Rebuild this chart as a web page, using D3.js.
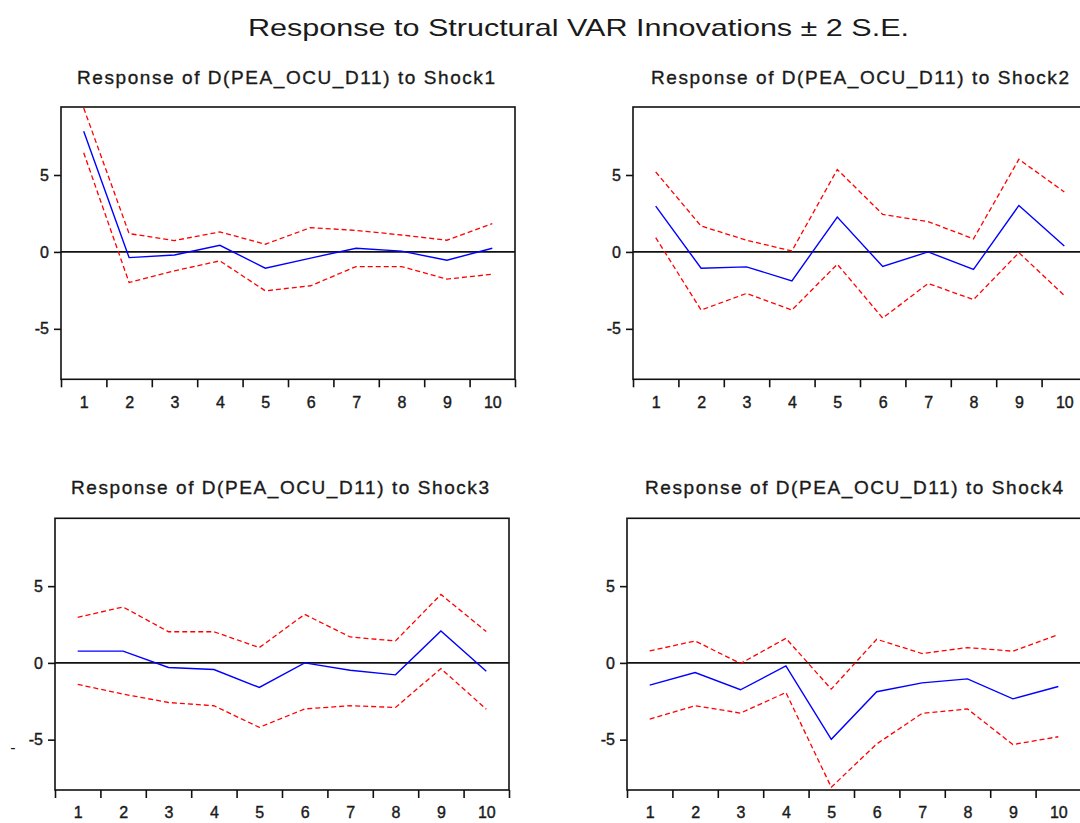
<!DOCTYPE html>
<html><head><meta charset="utf-8">
<script src="https://cdn.jsdelivr.net/npm/d3@7"></script>
<style>
html,body{margin:0;padding:0;background:#fff;}
svg{display:block;}
text{font-family:"Liberation Sans",Arial,sans-serif;fill:#1a1a1a;}
</style></head>
<body><svg id="c" width="1080" height="823"></svg>
<script>
// ---- data ----
const periods = [1,2,3,4,5,6,7,8,9,10];
const yTicks = [-5, 0, 5];
const mainTitle = "Response to Structural VAR Innovations \u00B1 2 S.E.";
const panelTitles = [
  "Response of D(PEA_OCU_D11) to Shock1",
  "Response of D(PEA_OCU_D11) to Shock2",
  "Response of D(PEA_OCU_D11) to Shock3",
  "Response of D(PEA_OCU_D11) to Shock4"
];
const shock1 = [7.85, -0.37, -0.2, 0.43, -1.06, -0.4, 0.24, 0.05, -0.54, 0.24];
const shock1Upper = [9.35, 1.19, 0.74, 1.3, 0.5, 1.58, 1.4, 1.1, 0.76, 1.84];
const shock1Lower = [6.45, -1.99, -1.23, -0.58, -2.53, -2.2, -0.95, -0.95, -1.77, -1.45];
const shock2 = [2.98, -1.06, -0.97, -1.88, 2.27, -0.95, 0.0, -1.14, 3.02, 0.38];
const shock2Upper = [5.2, 1.68, 0.76, 0.06, 5.36, 2.44, 1.97, 0.85, 6.02, 3.9];
const shock2Lower = [0.93, -3.78, -2.7, -3.78, -0.8, -4.3, -2.05, -3.1, -0.05, -2.83];
const shock3 = [0.77, 0.77, -0.3, -0.43, -1.6, 0.0, -0.48, -0.78, 2.08, -0.55];
const shock3Upper = [2.97, 3.64, 2.03, 2.03, 1.0, 3.16, 1.69, 1.43, 4.46, 2.04];
const shock3Lower = [-1.4, -2.03, -2.58, -2.79, -4.2, -3.0, -2.79, -2.9, -0.37, -3.02];
const shock4 = [-1.45, -0.63, -1.75, -0.2, -4.98, -1.88, -1.3, -1.04, -2.34, -1.54];
const shock4Upper = [0.78, 1.43, -0.04, 1.6, -1.71, 1.54, 0.61, 1.0, 0.76, 1.84];
const shock4Lower = [-3.66, -2.79, -3.27, -1.93, -8.1, -5.28, -3.29, -3.0, -5.32, -4.81];

const series = [
  [shock1, shock1Upper, shock1Lower],
  [shock2, shock2Upper, shock2Lower],
  [shock3, shock3Upper, shock3Lower],
  [shock4, shock4Upper, shock4Lower]
];

// ---- layout ----
const layout = [
  {left: 61,  top: 107, bottom: 379.3, titleY: 83.5},
  {left: 633, top: 107, bottom: 379.3, titleY: 83.5},
  {left: 55,  top: 518.3, bottom: 790, titleY: 494},
  {left: 627, top: 518.3, bottom: 790, titleY: 494}
];
const W = 454;
const yDomain = [-8.28, 9.42];
const fmt = d => String(d); // plain hyphen-minus as in reference

const svg = d3.select("#c");

svg.append("text")
  .attr("x", 248).attr("y", 36)
  .attr("font-size", 24)
  .attr("textLength", 661).attr("lengthAdjust", "spacingAndGlyphs")
  .text(mainTitle);

layout.forEach((L, i) => {
  const g = svg.append("g");
  const right = L.left + W;
  const x = d3.scaleLinear().domain([0.5, 10.5]).range([L.left, right]);
  const y = d3.scaleLinear().domain(yDomain).range([L.bottom, L.top]);

  // title
  g.append("text")
    .attr("x", L.left + W/2 - 209 + (i % 2 ? 0 : -2)).attr("y", L.titleY)
    .attr("font-size", 19)
    .attr("stroke", "#1a1a1a").attr("stroke-width", 0.35)
    .attr("textLength", 418).attr("lengthAdjust", "spacing")
    .text(panelTitles[i]);

  // frame
  g.append("rect")
    .attr("x", L.left).attr("y", L.top)
    .attr("width", W).attr("height", L.bottom - L.top)
    .attr("fill", "none").attr("stroke", "#111").attr("stroke-width", 1.6);

  // y axis
  const yAxis = d3.axisLeft(y).tickValues(yTicks).tickSize(7).tickPadding(5).tickFormat(fmt);
  const ya = g.append("g").attr("transform", `translate(${L.left},0)`).call(yAxis);
  ya.select(".domain").remove();
  ya.selectAll("line").attr("stroke", "#111").attr("stroke-width", 1.6);
  ya.selectAll("text").attr("font-size", 16).attr("font-family", "Liberation Sans, Arial, sans-serif")
    .attr("fill", "#1a1a1a").attr("stroke", "#1a1a1a").attr("stroke-width", 0.4);

  // x axis ticks at band edges
  const edges = d3.range(0.5, 11, 1);
  const xAxisTicks = d3.axisBottom(x).tickValues(edges).tickSize(8).tickFormat("");
  const xa = g.append("g").attr("transform", `translate(0,${L.bottom})`).call(xAxisTicks);
  xa.select(".domain").remove();
  xa.selectAll("line").attr("stroke", "#111").attr("stroke-width", 1.6);
  const xAxisLabels = d3.axisBottom(x).tickValues(periods).tickSize(0).tickPadding(17).tickFormat(fmt);
  const xl = g.append("g").attr("transform", `translate(0,${L.bottom})`).call(xAxisLabels);
  xl.select(".domain").remove();
  xl.selectAll("text").attr("font-size", 16).attr("font-family", "Liberation Sans, Arial, sans-serif")
    .attr("fill", "#1a1a1a").attr("stroke", "#1a1a1a").attr("stroke-width", 0.4);

  // zero line
  g.append("line")
    .attr("x1", L.left).attr("x2", right)
    .attr("y1", y(0)).attr("y2", y(0))
    .attr("stroke", "#111").attr("stroke-width", 1.6);

  const line = d3.line().x((d, k) => x(periods[k])).y(d => y(d));
  const [mid, up, lo] = series[i];
  [up, lo].forEach(s => {
    g.append("path").datum(s).attr("d", line)
      .attr("fill", "none").attr("stroke", "#ff0000")
      .attr("stroke-width", 1.3).attr("stroke-dasharray", "5,3");
  });
  g.append("path").datum(mid).attr("d", line)
    .attr("fill", "none").attr("stroke", "#0000ff").attr("stroke-width", 1.4);
});

// stray mark present in the reference
svg.append("text").attr("x", 13).attr("y", 753).attr("font-size", 16).attr("text-anchor", "middle").text("-");
</script>
</body></html>
